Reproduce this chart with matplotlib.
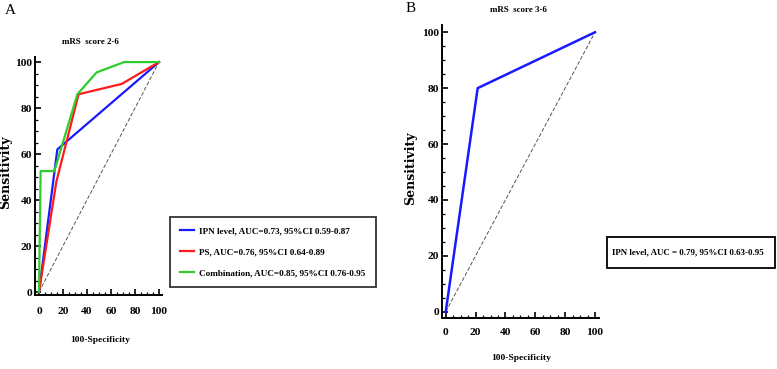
import matplotlib
matplotlib.use("Agg")
import matplotlib.pyplot as plt
from matplotlib.patches import Rectangle
from matplotlib.ticker import MultipleLocator

# Panel A: mRS score 2-6
ipn_a_x = [0, 15.3, 100]
ipn_a_y = [0, 62, 100]
ps_a_x = [0, 14.5, 33, 69, 100]
ps_a_y = [0, 48, 86, 90.5, 100]
comb_a_x = [0, 1.4, 12.8, 32, 48, 71, 100]
comb_a_y = [0, 52.6, 52.6, 86, 95.5, 100, 100]
labels_a = ["IPN level, AUC=0.73, 95%CI 0.59-0.87",
            "PS, AUC=0.76, 95%CI 0.64-0.89",
            "Combination, AUC=0.85, 95%CI 0.76-0.95"]

# Panel B: mRS score 3-6
ipn_b_x = [0, 21.4, 100]
ipn_b_y = [0, 80, 100]
label_b = "IPN level, AUC = 0.79, 95%CI 0.63-0.95"

ref_line = [0, 100]
ticks = [0, 20, 40, 60, 80, 100]

W, H = 777, 369
serif = "Liberation Serif"

fig = plt.figure(figsize=(W / 100, H / 100), dpi=100)


def px_axes(l, t, r, b):
    return fig.add_axes([l / W, 1 - b / H, (r - l) / W, (b - t) / H])


def style(ax, xlim, ylim, xpad):
    ax.set_xlim(*xlim)
    ax.set_ylim(*ylim)
    for s in ["top", "right"]:
        ax.spines[s].set_visible(False)
    for s in ["left", "bottom"]:
        ax.spines[s].set_linewidth(1.4)
    ax.set_xticks(ticks)
    ax.set_yticks(ticks)
    ax.xaxis.set_minor_locator(MultipleLocator(5))
    ax.yaxis.set_minor_locator(MultipleLocator(5))
    ax.tick_params(which="major", direction="in", length=4, width=1.2)
    ax.tick_params(which="minor", direction="in", length=2, width=0.9)
    ax.tick_params(axis="x", which="major", pad=xpad)
    ax.tick_params(axis="y", which="major", pad=2)
    for lab in ax.get_xticklabels() + ax.get_yticklabels():
        lab.set_fontfamily(serif)
        lab.set_fontweight("bold")
        lab.set_fontsize(8.2)


blue = "#1a1aff"
red = "#ff1a1a"
green = "#2ecc2e"

# ---- Panel A
ax_a = px_axes(35, 57, 162, 295)
ax_a.plot(ref_line, ref_line, color="#555555", lw=0.7, ls=(0, (4, 2)))
ax_a.plot(ipn_a_x, ipn_a_y, color=blue, lw=1.6, label=labels_a[0])
ax_a.plot(ps_a_x, ps_a_y, color=red, lw=1.6, label=labels_a[1])
ax_a.plot(comb_a_x, comb_a_y, color=green, lw=1.6, label=labels_a[2])
style(ax_a, (-3.3, 102.5), (-1.3, 102.2), 9)

handles, labs = ax_a.get_legend_handles_labels()
leg = fig.legend(handles[:3], labs[:3], loc="upper left",
                 bbox_to_anchor=(170 / W, 1 - 217 / H),
                 prop={"family": serif, "weight": "bold", "size": 6.6},
                 frameon=True, fancybox=False, edgecolor="black",
                 handlelength=1.5, handletextpad=0.6, borderpad=1.1,
                 labelspacing=1.35, borderaxespad=0)
leg.get_frame().set_linewidth(1.3)

fig.text(10 / W, 1 - 10 / H, "A", fontsize=11, family=serif, va="center", ha="center")
fig.text(90 / W, 1 - 42 / H, "mRS  score 2-6", fontsize=6.4, family=serif,
         weight="bold", ha="center", va="center")
fig.text(100 / W, 1 - 340 / H, "100-Specificity", fontsize=6.8, family=serif,
         weight="bold", ha="center", va="center")
fig.text(6 / W, 1 - 172 / H, "Sensitivity", fontsize=9, family="DejaVu Serif",
         weight="bold", ha="center", va="center", rotation=90)

# ---- Panel B
ax_b = px_axes(441.7, 25, 599, 318)
ax_b.plot(ref_line, ref_line, color="#555555", lw=0.7, ls=(0, (4, 2)))
ax_b.plot(ipn_b_x, ipn_b_y, color=blue, lw=1.8)
style(ax_b, (-2.7, 102.7), (-2.25, 102.6), 7)

fig.patches.append(Rectangle((607 / W, 1 - 268 / H), 168 / W, 31 / H,
                             transform=fig.transFigure, fill=False,
                             edgecolor="black", lw=1.3))
fig.text(612 / W, 1 - 252.5 / H, label_b, fontsize=6.4, family=serif,
         weight="bold", ha="left", va="center")

fig.text(411 / W, 1 - 8 / H, "B", fontsize=11, family=serif, va="center", ha="center")
fig.text(518 / W, 1 - 10 / H, "mRS  score 3-6", fontsize=6.4, family=serif,
         weight="bold", ha="center", va="center")
fig.text(521 / W, 1 - 358 / H, "100-Specificity", fontsize=6.8, family=serif,
         weight="bold", ha="center", va="center")
fig.text(411 / W, 1 - 168 / H, "Sensitivity", fontsize=9, family="DejaVu Serif",
         weight="bold", ha="center", va="center", rotation=90)

fig.savefig("out.png", dpi=100)
